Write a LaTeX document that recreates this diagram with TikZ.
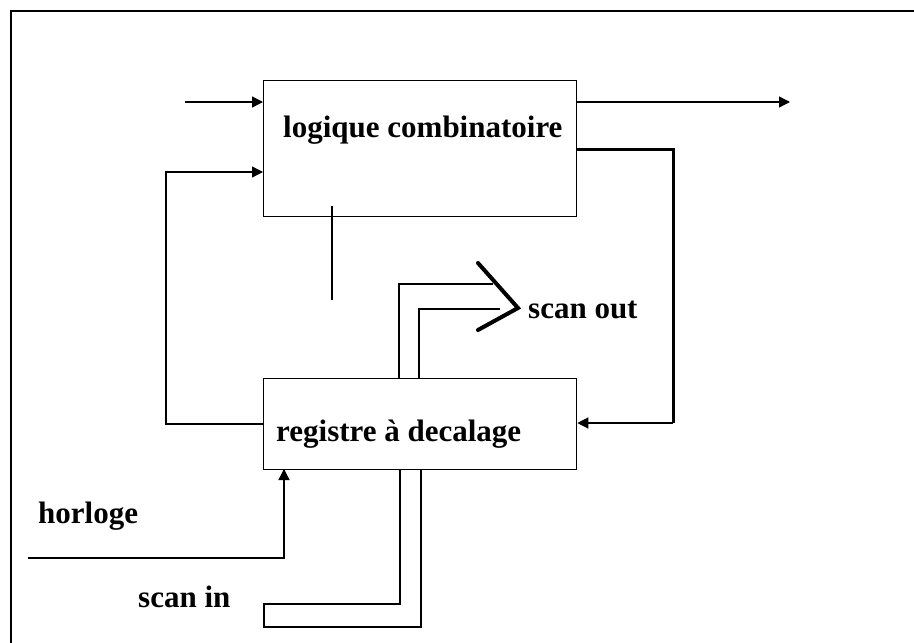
\documentclass[tikz,border=0pt]{standalone}
\usepackage{fontspec}
\setmainfont{Liberation Serif}
\usepackage{tikz}
\usetikzlibrary{positioning,arrows.meta,calc}
\tikzset{
  blk/.style={draw,line width=1.3pt,minimum width=313pt,inner sep=0pt,anchor=north west},
  lbl/.style={inner sep=0pt,anchor=base west,font=\fontsize{31}{36}\selectfont\bfseries},
  lnk/.style={-{Triangle[length=11pt,width=11pt]},line width=1.3pt},
  wire/.style={line width=1.3pt},
  fbk/.style={line width=3pt},
  bus/.style={line width=2.6pt},
  chev/.style={line width=4pt,line cap=round,line join=miter},
}

\begin{document}
\begin{tikzpicture}[x=1pt,y=-1pt]
  \useasboundingbox (0,0) rectangle (914,643);
  % cadre
  \draw[wire] (11,643) -- (11,11) -- (914,11);
  % blocs
  \node[blk,minimum height=136pt] (comb) at (263,80) {};
  \node[blk,minimum height=91pt] (reg) at (263,378) {};
  \node[lbl] (combtxt) at (283,137) {logique combinatoire};
  \node[lbl] (regtxt) at (276,441) {registre à decalage};
  \node[lbl] (sotxt) at (528,318) {scan out};
  \node[lbl] (sitxt) at (138,607) {scan in};
  \node[lbl] (hortxt) at (38,523) {horloge};
  % points
  \coordinate (inA) at (185,102);
  \coordinate (outA) at (790,102);
  \coordinate (rtop) at (673,149);
  \coordinate (rbot) at (673,423);
  \coordinate (ltop) at (166,172);
  \coordinate (lbot) at (166,424);
  \coordinate (stubA) at (332,206);
  \coordinate (stubB) at (332,300);
  \coordinate (soA) at (399,284);
  \coordinate (soB) at (419,309);
  \coordinate (siA) at (264,604);
  \coordinate (siB) at (421,627);
  \coordinate (clk) at (28,558);
  % liaisons
  \draw[lnk] (inA) -- (comb.west |- inA);
  \draw[lnk] (comb.east |- inA) -- (outA);
  \draw[fbk] (rtop -| comb.east) -- (rtop) -- (rbot);
  \draw[lnk] (rbot) -- (rbot -| reg.east);
  \draw[lnk] (reg.west |- lbot) -- (lbot) |- (comb.west |- ltop);
  \draw[wire] (stubA) -- (stubB);
  % scan out
  \draw[bus] (soA |- reg.north) |- (493,284);
  \draw[bus] (soB |- reg.north) |- (500,309);
  \draw[chev] (478,263) -- (518,308) -- (478,330);
  % scan in
  \draw[bus] (400,469) |- (siA) -- (siA |- siB) -| (siB |- reg.south);
  % horloge
  \draw[lnk] (clk) -| (284,469);
\end{tikzpicture}
\end{document}
